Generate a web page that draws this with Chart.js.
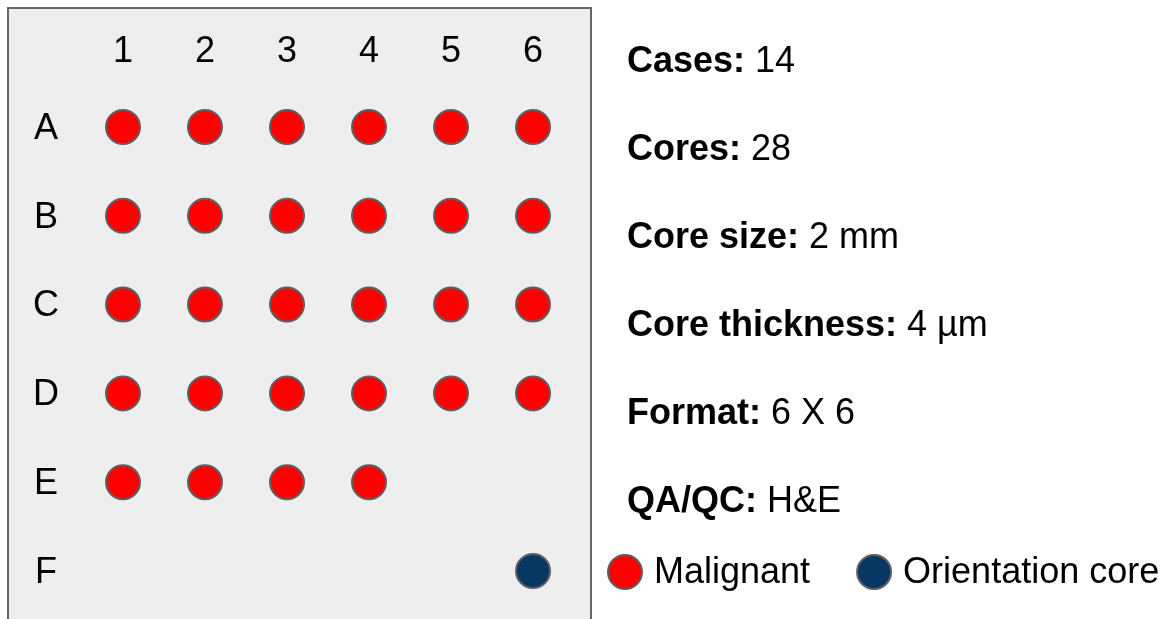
<!DOCTYPE html>
<html lang="en">
<head>
    <meta charset="UTF-8">
    <title>TMA map</title>
    <script src="https://cdn.jsdelivr.net/npm/chart.js"></script>
    <style>
        body { margin: 0; background: #ffffff; }
        #wrap { position: relative; width: 1170px; height: 619px; }
    </style>
</head>
<body>
    <div id="wrap"><canvas id="myChart"></canvas></div>

    <script>
        // grid labels
        const rowLabels = ['A', 'B', 'C', 'D', 'E', 'F'];
        const colLabels = ['1', '2', '3', '4', '5', '6'];

        // cores placed on the slide
        const malignantCells = [
            'A1', 'A2', 'A3', 'A4', 'A5', 'A6',
            'B1', 'B2', 'B3', 'B4', 'B5', 'B6',
            'C1', 'C2', 'C3', 'C4', 'C5', 'C6',
            'D1', 'D2', 'D3', 'D4', 'D5', 'D6',
            'E1', 'E2', 'E3', 'E4'
        ];
        const orientationCells = ['F6'];

        // summary on the right
        const infoLabels = ['Cases:', 'Cores:', 'Core size:', 'Core thickness:', 'Format:', 'QA/QC:'];
        const infoValues = ['14', '28', '2 mm', '4 µm', '6 X 6', 'H&E'];

        const FONT = '"Liberation Sans", Arial, sans-serif';

        function toPoint(cell) {
            return { x: colLabels.indexOf(cell.slice(1)) + 1, y: rowLabels.indexOf(cell[0]) + 1 };
        }

        // gray slide background
        const slideBox = {
            id: 'slideBox',
            beforeDraw(chart) {
                const c = chart.ctx;
                c.save();
                c.fillStyle = '#eeeeee';
                c.fillRect(8, 8, 583, 700);
                c.strokeStyle = '#666666';
                c.lineWidth = 2;
                c.strokeRect(8, 8, 583, 700);
                c.restore();
            }
        };

        // text block + legend
        const sidePanel = {
            id: 'sidePanel',
            afterDraw(chart) {
                const c = chart.ctx;
                c.save();
                c.fillStyle = '#000000';
                c.textBaseline = 'alphabetic';
                infoLabels.forEach((lab, i) => {
                    const y = 72 + i * 88;
                    c.font = 'bold 36px ' + FONT;
                    c.fillText(lab, 627, y);
                    const w = c.measureText(lab).width;
                    c.font = '36px ' + FONT;
                    c.fillText(' ' + infoValues[i], 627 + w, y);
                });

                let cx = 625;
                const cy = 572;
                chart.data.datasets.forEach(ds => {
                    c.beginPath();
                    c.arc(cx, cy, 17, 0, Math.PI * 2);
                    c.fillStyle = ds.backgroundColor;
                    c.fill();
                    c.lineWidth = 2;
                    c.strokeStyle = ds.borderColor;
                    c.stroke();
                    c.font = '36px ' + FONT;
                    c.fillStyle = '#000000';
                    c.textBaseline = 'middle';
                    c.fillText(ds.label, cx + 29, cy + 1);
                    cx = cx + 29 + c.measureText(ds.label).width + 64;
                });
                c.restore();
            }
        };

        const ctx = document.getElementById('myChart').getContext('2d');
        const chart = new Chart(ctx, {
            type: 'scatter',
            data: {
                datasets: [
                    {
                        label: 'Malignant',
                        data: malignantCells.map(toPoint),
                        backgroundColor: '#ff0000',
                        borderColor: '#5f5f5f',
                        borderWidth: 2,
                        pointRadius: 17,
                        pointHoverRadius: 17
                    },
                    {
                        label: 'Orientation core',
                        data: orientationCells.map(toPoint),
                        backgroundColor: '#073763',
                        borderColor: '#5f5f5f',
                        borderWidth: 2,
                        pointRadius: 17,
                        pointHoverRadius: 17
                    }
                ]
            },
            options: {
                responsive: true,
                maintainAspectRatio: false,
                animation: false,
                clip: false,
                layout: { padding: { left: 8, top: 8, right: 579, bottom: 0 } },
                plugins: {
                    legend: { display: false },
                    tooltip: { enabled: false }
                },
                scales: {
                    x: {
                        type: 'linear',
                        position: 'top',
                        min: 0.4756,
                        max: 6.707,
                        afterFit: (scale) => {
                            scale.height = 72;
                            scale.paddingLeft = 0;
                            scale.paddingRight = 0;
                        },
                        afterBuildTicks: (scale) => {
                            scale.ticks = colLabels.map((_, i) => ({ value: i + 1 }));
                        },
                        grid: { display: false, drawTicks: false },
                        border: { display: false },
                        ticks: {
                            padding: 6,
                            color: '#000000',
                            font: { family: FONT, size: 36 },
                            callback: (v) => colLabels[v - 1]
                        }
                    },
                    y: {
                        type: 'linear',
                        reverse: true,
                        min: 0.472,
                        max: 6.326,
                        afterFit: (scale) => {
                            scale.width = 72;
                            scale.paddingTop = 0;
                            scale.paddingBottom = 0;
                        },
                        afterBuildTicks: (scale) => {
                            scale.ticks = rowLabels.map((_, i) => ({ value: i + 1 }));
                        },
                        grid: { display: false, drawTicks: false },
                        border: { display: false },
                        ticks: {
                            padding: 21,
                            labelOffset: 2,
                            crossAlign: 'center',
                            color: '#000000',
                            font: { family: FONT, size: 36 },
                            callback: (v) => rowLabels[v - 1]
                        }
                    }
                }
            },
            plugins: [slideBox, sidePanel]
        });
    </script>
</body>
</html>
